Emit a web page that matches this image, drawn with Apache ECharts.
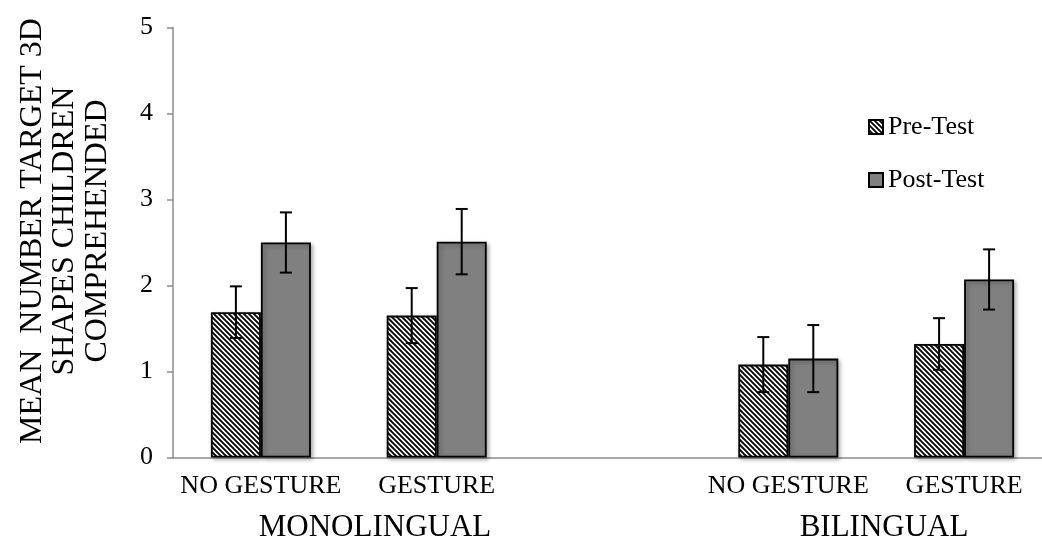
<!DOCTYPE html>
<html>
<head>
<meta charset="utf-8">
<script src="https://cdn.jsdelivr.net/npm/echarts@6/dist/echarts.min.js"></script>
<style>
  html, body { margin: 0; padding: 0; background: #fff; }
  #chart { width: 1042px; height: 542px; }
</style>
</head>
<body>
<div id="chart"></div>
<script>
const categories = ['NO GESTURE', 'GESTURE', '', 'NO GESTURE', 'GESTURE'];
const groupLabels = ['MONOLINGUAL', 'BILINGUAL'];
const seriesNames = ['Pre-Test', 'Post-Test'];
const preTest = [1.69, 1.65, null, 1.08, 1.32];
const postTest = [2.5, 2.51, null, 1.15, 2.07];
const preErr = [0.3, 0.32, null, 0.32, 0.3];
const postErr = [0.35, 0.38, null, 0.39, 0.35];
const yTicks = [0, 1, 2, 3, 4, 5];

const FONT = '"Liberation Serif", "Times New Roman", serif';
const BAR_W = 50;

// hatch fill for pre-test bars
function makeHatch() {
  const c = document.createElement('canvas');
  c.width = 5;
  c.height = 5;
  const ctx = c.getContext('2d');
  ctx.fillStyle = '#fff';
  ctx.fillRect(0, 0, 5, 5);
  ctx.strokeStyle = '#000';
  ctx.lineWidth = 1.8;
  ctx.beginPath();
  for (let k = -5; k <= 5; k += 5) {
    ctx.moveTo(k - 1, -1);
    ctx.lineTo(k + 6, 6);
  }
  ctx.stroke();
  return c;
}

const barStyle = {
  borderColor: '#000',
  borderWidth: 1.8,
  shadowBlur: 4,
  shadowOffsetX: 2,
  shadowOffsetY: 2,
  shadowColor: 'rgba(0,0,0,0.3)'
};

function errorSeries(values, errs, offset) {
  return {
    type: 'custom',
    silent: true,
    z: 10,
    data: values.map((v, i) => (v == null ? null : [i, v, errs[i]])).filter((d) => d),
    renderItem: (params, api) => {
      const i = api.value(0);
      const v = api.value(1);
      const e = api.value(2);
      const top = api.coord([i, v + e]);
      const bot = api.coord([i, v - e]);
      const x = top[0] + offset;
      const cap = 6;
      const style = { stroke: '#000', lineWidth: 2 };
      return {
        type: 'group',
        children: [
          { type: 'line', shape: { x1: x, y1: top[1], x2: x, y2: bot[1] }, style },
          { type: 'line', shape: { x1: x - cap, y1: top[1], x2: x + cap, y2: top[1] }, style },
          { type: 'line', shape: { x1: x - cap, y1: bot[1], x2: x + cap, y2: bot[1] }, style }
        ]
      };
    }
  };
}

const chart = echarts.init(document.getElementById('chart'));
chart.setOption({
  animation: false,
  textStyle: { fontFamily: FONT },
  // plot area runs a little past the right edge of the picture
  grid: { left: 173, width: 879, top: 27.5, bottom: 84.5, containLabel: false, outerBoundsMode: 'none' },
  legend: {
    orient: 'vertical',
    left: 863,
    top: 109,
    itemWidth: 14,
    itemHeight: 14,
    itemGap: 27,
    icon: 'rect',
    data: seriesNames,
    textStyle: { fontSize: 26, lineHeight: 26, color: '#000', fontFamily: FONT }
  },
  xAxis: {
    type: 'category',
    data: categories,
    axisLine: { lineStyle: { color: '#8c8c8c', width: 1.5 } },
    axisTick: { length: 6, lineStyle: { color: '#8c8c8c', width: 1.5 } },
    axisLabel: { fontSize: 26, color: '#000', margin: 16, interval: 0, fontFamily: FONT }
  },
  yAxis: {
    type: 'value',
    min: 0,
    max: 5,
    interval: 1,
    splitLine: { show: false },
    axisLine: { show: true, lineStyle: { color: '#8c8c8c', width: 1.5 } },
    axisTick: { show: true, length: 6, lineStyle: { color: '#8c8c8c', width: 1.5 } },
    axisLabel: {
      fontSize: 26,
      color: '#000',
      margin: 20,
      fontFamily: FONT,
      formatter: (v) => (yTicks.includes(v) ? String(v) : '')
    }
  },
  series: [
    {
      name: seriesNames[0],
      type: 'bar',
      data: preTest,
      barWidth: BAR_W,
      barGap: '0%',
      itemStyle: Object.assign({ color: { image: makeHatch(), repeat: 'repeat' } }, barStyle)
    },
    {
      name: seriesNames[1],
      type: 'bar',
      data: postTest,
      barWidth: BAR_W,
      barGap: '0%',
      itemStyle: Object.assign({ color: '#808080' }, barStyle)
    },
    errorSeries(preTest, preErr, -BAR_W / 2),
    errorSeries(postTest, postErr, BAR_W / 2)
  ],
  graphic: [
    {
      type: 'text',
      x: 65,
      y: 231,
      rotation: Math.PI / 2,
      style: {
        text: 'MEAN  NUMBER TARGET 3D\nSHAPES CHILDREN\nCOMPREHENDED',
        font: '32px ' + FONT,
        lineHeight: 32.5,
        fill: '#000',
        align: 'center',
        verticalAlign: 'middle'
      }
    },
    {
      type: 'text',
      x: 375,
      y: 528,
      style: { text: groupLabels[0], font: '31px ' + FONT, fill: '#000', align: 'center', verticalAlign: 'middle' }
    },
    {
      type: 'text',
      x: 884,
      y: 528,
      style: { text: groupLabels[1], font: '31px ' + FONT, fill: '#000', align: 'center', verticalAlign: 'middle' }
    }
  ]
});
</script>
</body>
</html>
